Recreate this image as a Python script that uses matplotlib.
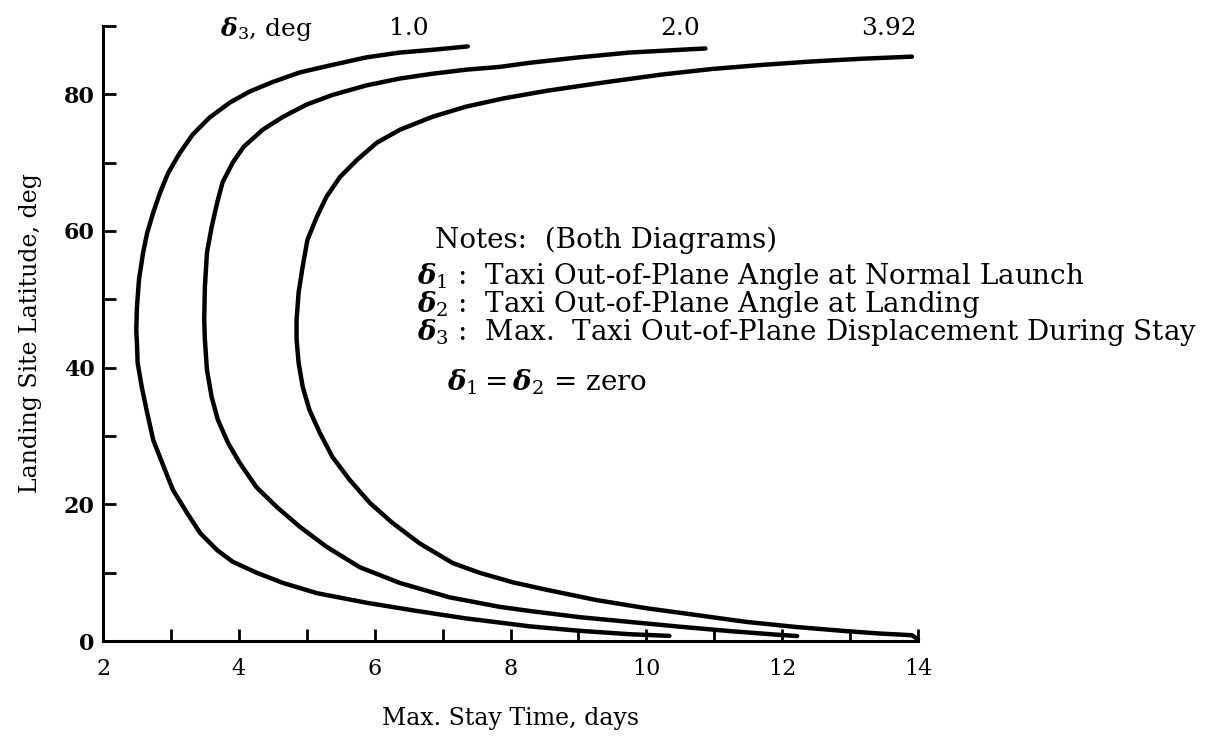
import matplotlib
matplotlib.use("Agg")
import matplotlib.pyplot as plt

plt.rcParams["font.family"] = "DejaVu Serif"
plt.rcParams["mathtext.fontset"] = "dejavuserif"

# stay time (days) vs landing site latitude (deg) for each delta_3 value
d3_labels = ["1.0", "2.0", "3.92"]

stay_1 = [7.37, 6.85, 6.37, 5.88, 5.38, 4.90, 4.50, 4.16, 3.87, 3.57, 3.32,
          3.13, 2.96, 2.84, 2.74, 2.65, 2.59, 2.53, 2.50, 2.49, 2.50, 2.51,
          2.57, 2.65, 2.74, 2.87, 3.03, 3.24, 3.43, 3.68, 3.91, 4.26, 4.65,
          5.15, 5.88, 6.62, 7.35, 7.84, 8.28, 9.01, 9.75, 10.34]
lat_1 = [87.0, 86.5, 86.1, 85.4, 84.3, 83.2, 81.8, 80.4, 78.8, 76.6, 74.1,
         71.4, 68.5, 65.6, 62.7, 59.7, 56.8, 52.9, 48.9, 45.5, 43.5, 40.7,
         37.2, 33.4, 29.4, 26.1, 22.1, 18.7, 15.8, 13.3, 11.6, 10.0, 8.5,
         7.0, 5.6, 4.4, 3.3, 2.7, 2.15, 1.5, 1.0, 0.75]

stay_2 = [10.87, 10.49, 9.75, 9.01, 8.28, 7.84, 7.35, 6.85, 6.37, 5.88, 5.38,
          5.00, 4.65, 4.35, 4.07, 3.91, 3.76, 3.68, 3.60, 3.53, 3.50, 3.49,
          3.50, 3.53, 3.60, 3.69, 3.84, 4.01, 4.26, 4.56, 4.90, 5.29, 5.78,
          6.37, 7.10, 7.84, 8.28, 9.01, 9.75, 10.49, 11.22, 11.96, 12.22]
lat_2 = [86.7, 86.5, 86.1, 85.4, 84.6, 84.0, 83.6, 83.0, 82.3, 81.3, 79.9,
         78.5, 76.7, 74.8, 72.3, 70.0, 67.1, 64.1, 60.6, 56.8, 51.8, 47.0,
         44.1, 39.7, 35.7, 32.4, 29.0, 26.1, 22.5, 19.6, 16.7, 13.8, 10.8,
         8.5, 6.4, 5.0, 4.4, 3.5, 2.8, 2.1, 1.46, 0.9, 0.73]

stay_3 = [13.91, 13.18, 12.44, 11.71, 10.97, 10.24, 9.50, 9.01, 8.53, 7.90,
          7.35, 6.85, 6.37, 6.03, 5.74, 5.49, 5.29, 5.15, 5.01, 4.94, 4.88,
          4.85, 4.85, 4.88, 4.94, 5.04, 5.19, 5.38, 5.63, 5.93, 6.26, 6.66,
          7.15, 7.54, 8.03, 8.53, 9.26, 10.00, 10.74, 11.47, 12.21, 12.94,
          13.43, 13.91, 14.0]
lat_3 = [85.5, 85.2, 84.8, 84.3, 83.7, 82.9, 81.9, 81.2, 80.5, 79.4,
         78.2, 76.7, 74.8, 72.9, 70.4, 67.9, 65.0, 62.1, 58.7, 54.8, 51.0,
         47.0, 44.1, 40.7, 37.2, 33.8, 30.5, 26.9, 23.6, 20.2, 17.3, 14.3,
         11.4, 10.0, 8.6, 7.5, 6.0, 4.8, 3.8, 2.8, 2.05, 1.45,
         1.1, 0.85, 0.25]

# label position of each curve along the top
label_x = [6.5, 10.5, 13.57]

fig = plt.figure(figsize=(12.19, 7.38), dpi=100)
ax = fig.add_axes([0.0845, 0.1314, 0.6686, 0.8335])

for xs, ys in [(stay_1, lat_1), (stay_2, lat_2), (stay_3, lat_3)]:
    ax.plot(xs, ys, color="black", lw=3.2, solid_capstyle="round",
            solid_joinstyle="round", clip_on=False)

ax.set_xlim(2, 14)
ax.set_ylim(0, 90)
ax.spines["top"].set_visible(False)
ax.spines["right"].set_visible(False)
ax.spines["left"].set_linewidth(2.2)
ax.spines["bottom"].set_linewidth(2.2)

ax.set_xticks(range(2, 15, 2))
ax.set_xticks(range(3, 15, 2), minor=True)
ax.set_yticks(range(0, 81, 20))
ax.set_yticks(range(10, 91, 20), minor=True)
ax.tick_params(which="both", direction="in", width=2, length=9, color="black")
ax.tick_params(axis="x", labelsize=16, pad=12)
ax.tick_params(axis="y", labelsize=16, pad=6)
for lab in ax.get_yticklabels():
    lab.set_fontweight("bold")

ax.set_xlabel("Max. Stay Time, days", fontsize=17, labelpad=20)
ax.set_ylabel("Landing Site Latitude, deg", fontsize=17, labelpad=16)

# curve labels along the top
ax.text(4.4, 89.6, r"$\boldsymbol{\delta}_3$, deg", fontsize=18, ha="center",
        va="center", clip_on=False)
for x, t in zip(label_x, d3_labels):
    ax.text(x, 89.6, t, fontsize=18, ha="center", va="center", clip_on=False)

# notes block
fs = 20
ax.text(9.4, 58.6, "Notes:  (Both Diagrams)", fontsize=fs, ha="center", va="center")
notes = [
    (r"$\boldsymbol{\delta}_1$ :  Taxi Out-of-Plane Angle at Normal Launch", 53.3),
    (r"$\boldsymbol{\delta}_2$ :  Taxi Out-of-Plane Angle at Landing", 49.2),
    (r"$\boldsymbol{\delta}_3$ :  Max.  Taxi Out-of-Plane Displacement During Stay", 45.1),
]
for t, y in notes:
    ax.text(6.63, y, t, fontsize=fs, ha="left", va="center", clip_on=False)
ax.text(7.07, 37.8, r"$\boldsymbol{\delta}_1 = \boldsymbol{\delta}_2$ = zero",
        fontsize=fs, ha="left", va="center")

fig.savefig("out.png", dpi=100)
